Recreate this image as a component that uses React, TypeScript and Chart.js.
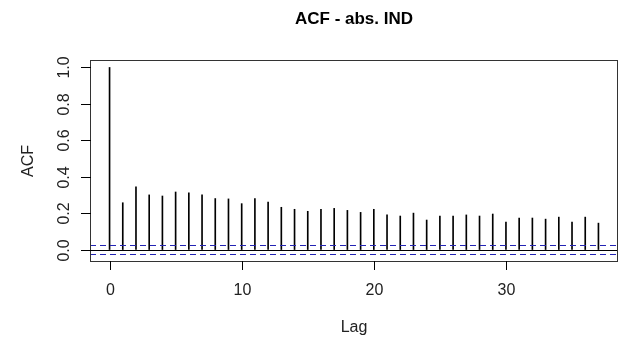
import React, { useEffect, useRef } from "react";
import Chart from "chart.js/auto";

const lags = [0, 1, 2, 3, 4, 5, 6, 7, 8, 9, 10, 11, 12, 13, 14, 15, 16, 17, 18, 19, 20, 21, 22, 23, 24, 25, 26, 27, 28, 29, 30, 31, 32, 33, 34, 35, 36, 37];
const acfValues = [
  1.0, 0.257, 0.344, 0.3, 0.294, 0.316, 0.311, 0.3, 0.28, 0.278,
  0.252, 0.28, 0.261, 0.232, 0.221, 0.21, 0.221, 0.226, 0.215, 0.204,
  0.221, 0.19, 0.184, 0.2, 0.162, 0.184, 0.184, 0.19, 0.184, 0.195,
  0.151, 0.173, 0.173, 0.167, 0.178, 0.151, 0.178, 0.145,
];
const confLimit = 0.023;
const xTicks = [0, 10, 20, 30];
const xTickLabels = ["0", "10", "20", "30"];
const yTicks = [0, 0.2, 0.4, 0.6, 0.8, 1.0];
const yTickLabels = ["0.0", "0.2", "0.4", "0.6", "0.8", "1.0"];
const titleText = "ACF - abs. IND";
const xTitle = "Lag";
const yTitle = "ACF";
const xMin = -1.48;
const xMax = 38.48;
const yMin = -0.0685;
const yMax = 1.041;

const FONT = '"Liberation Sans", Arial, sans-serif';

const rPlot = {
  id: "rPlot",
  afterDatasetsDraw(chart: any) {
    const { ctx, chartArea: a } = chart;
    const x = chart.scales.x;
    const y = chart.scales.y;
    ctx.save();

    // reference lines (clipped to plot region)
    ctx.save();
    ctx.beginPath();
    ctx.rect(a.left, a.top, a.right - a.left, a.bottom - a.top);
    ctx.clip();
    ctx.lineWidth = 1;
    const y0 = Math.round(y.getPixelForValue(0)) + 0.5;
    ctx.strokeStyle = "#000";
    ctx.setLineDash([]);
    ctx.beginPath();
    ctx.moveTo(a.left, y0);
    ctx.lineTo(a.right, y0);
    ctx.stroke();
    ctx.strokeStyle = "#2323b4";
    ctx.setLineDash([6, 4]);
    for (const v of [confLimit, -confLimit]) {
      const py = Math.round(y.getPixelForValue(v)) + 0.5;
      ctx.beginPath();
      ctx.moveTo(a.left, py);
      ctx.lineTo(a.right, py);
      ctx.stroke();
    }
    ctx.restore();

    // box
    ctx.setLineDash([]);
    ctx.lineWidth = 1;
    ctx.strokeStyle = "#333";
    ctx.strokeRect(a.left + 0.5, a.top + 0.5, a.right - a.left - 1, a.bottom - a.top - 1);

    // x axis ticks and labels
    ctx.strokeStyle = "#000";
    ctx.fillStyle = "#222";
    ctx.font = `16px ${FONT}`;
    ctx.textAlign = "center";
    ctx.textBaseline = "alphabetic";
    xTicks.forEach((v, i) => {
      const px = Math.round(x.getPixelForValue(v)) + 0.5;
      ctx.beginPath();
      ctx.moveTo(px, a.bottom - 1);
      ctx.lineTo(px, a.bottom + 8);
      ctx.stroke();
      ctx.fillText(xTickLabels[i], px, 295);
    });

    // y axis ticks and labels (rotated)
    yTicks.forEach((v, i) => {
      const py = Math.round(y.getPixelForValue(v)) + 0.5;
      ctx.beginPath();
      ctx.moveTo(a.left - 9, py);
      ctx.lineTo(a.left + 1, py);
      ctx.stroke();
      ctx.save();
      ctx.translate(69, py);
      ctx.rotate(-Math.PI / 2);
      ctx.fillText(yTickLabels[i], 0, 0);
      ctx.restore();
    });

    // axis titles
    ctx.fillText(xTitle, (a.left + a.right) / 2, 332);
    ctx.save();
    ctx.translate(33, (a.top + a.bottom) / 2);
    ctx.rotate(-Math.PI / 2);
    ctx.fillText(yTitle, 0, 0);
    ctx.restore();

    // main title
    ctx.fillStyle = "#000";
    ctx.font = `bold 17px ${FONT}`;
    ctx.fillText(titleText, (a.left + a.right) / 2, 24);

    ctx.restore();
  },
};

export default function App() {
  const canvasRef = useRef<HTMLCanvasElement | null>(null);

  useEffect(() => {
    const canvas = canvasRef.current;
    if (!canvas) return;
    const chart = new Chart(canvas, {
      type: "bar",
      data: {
        datasets: [
          {
            data: lags.map((l, i) => ({ x: l, y: acfValues[i] })),
            backgroundColor: "#000",
            borderWidth: 0,
            barThickness: 1,
          },
        ],
      },
      options: {
        responsive: false,
        animation: false,
        events: [],
        layout: { padding: { left: 90, top: 60, right: 6, bottom: 80 } },
        plugins: { legend: { display: false }, tooltip: { enabled: false }, title: { display: false } },
        scales: {
          x: { type: "linear", min: xMin, max: xMax, offset: false, display: false },
          y: { type: "linear", min: yMin, max: yMax, display: false },
        },
      },
      plugins: [rPlot],
    });
    return () => chart.destroy();
  }, []);

  return (
    <div style={{ position: "absolute", left: 0, top: 0, width: 624, height: 342, background: "#fff" }}>
      <canvas ref={canvasRef} width={624} height={342} style={{ display: "block" }} />
    </div>
  );
}
